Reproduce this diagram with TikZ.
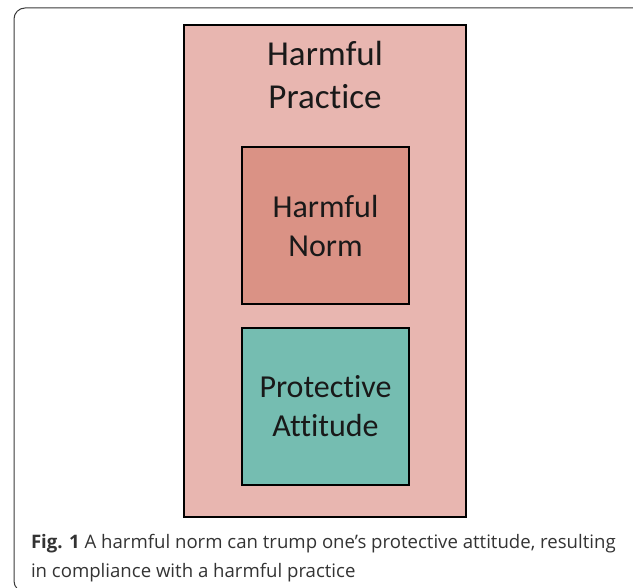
\documentclass[tikz,border=0pt]{standalone}
\usepackage{fontspec}
\setmainfont{Carlito}[Ligatures=NoCommon]
\newfontfamily\captionfont{Open Sans}
\definecolor{framegray}{HTML}{3A3A3A}
\definecolor{practicefill}{HTML}{E8B6B0}
\definecolor{normfill}{HTML}{DA9285}
\definecolor{attitudefill}{HTML}{75BDB1}
\definecolor{captiongray}{HTML}{333333}
\begin{document}
\begin{tikzpicture}[x=1pt,y=-1pt]
            \tikzstyle{every node}=[inner sep=0pt, outer sep=0pt]
            \tikzstyle{box}=[draw=black, line width=2pt, rectangle]
            \tikzstyle{bigtext}=[font=\fontsize{35}{43}\selectfont, align=center, text=black!90]
            \tikzstyle{smalltext}=[font=\fontsize{32}{39}\selectfont, align=center, text=black!90]
            \tikzstyle{captiontext}=[font=\captionfont\fontsize{18.6}{27}\selectfont, text=captiongray, anchor=base west]

            \useasboundingbox (0,0) rectangle (633,588);

            \draw[framegray, line width=1pt, rounded corners=11pt] (14,8) rectangle (680,592);

            \node[box, fill=practicefill, minimum width=282pt, minimum height=492pt] (practice) at (325,271.5) {};
            \node[bigtext, anchor=north] (practicetext) at (325,41) {Harmful\\Practice};

            \node[box, fill=normfill, minimum width=167pt, minimum height=157pt] (norm) at (325.5,226) {};
            \node[smalltext] (normtext) at (norm.center) {Harmful\\Norm};

            \node[box, fill=attitudefill, minimum width=167pt, minimum height=157pt] (attitude) at (325.5,406.5) {};
            \node[smalltext] (attitudetext) at (attitude.center) {Protective\\Attitude};

            \node[captiontext] (caption1) at (31,549) {\textbf{Fig. 1} A harmful norm can trump one’s protective attitude, resulting};
            \node[captiontext] (caption2) at (31,577) {in compliance with a harmful practice};

          \end{tikzpicture}
\end{document}
